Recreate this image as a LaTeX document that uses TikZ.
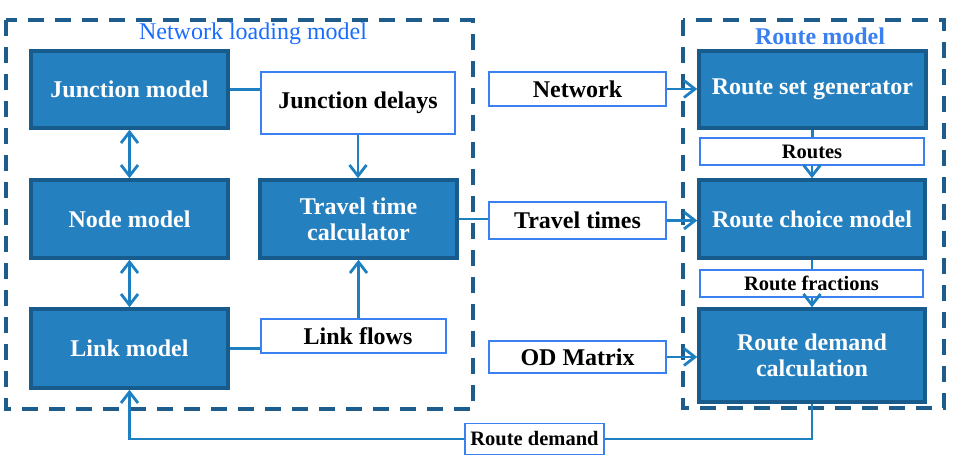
\documentclass[tikz,border=0pt]{standalone}
\usepackage{fontspec}
\setmainfont{Liberation Serif}
\usetikzlibrary{arrows.meta}
\definecolor{darkfill}{RGB}{37,128,192}
\definecolor{darkedge}{RGB}{24,92,142}
\definecolor{whiteedge}{RGB}{58,128,240}
\definecolor{conncol}{RGB}{30,128,193}
\definecolor{dashcol}{RGB}{30,92,140}
\definecolor{titleA}{RGB}{26,108,255}
\definecolor{titleB}{RGB}{58,128,240}
\tikzset{
  darkbox/.style={draw=darkedge, line width=3.5pt, fill=darkfill, text=white, inner sep=0pt,
    align=center, font=\fontsize{24}{26}\selectfont\bfseries},
  whitebox/.style={draw=whiteedge, line width=1.8pt, fill=white, text=black, inner sep=0pt,
    align=center, font=\fontsize{24}{26}\selectfont\bfseries},
  smallbox/.style={whitebox, font=\fontsize{20.5}{22}\selectfont\bfseries},
  conn/.style={draw=conncol, line width=2.8pt},
  arr/.style={conn, -{Straight Barb[length=11pt,width=17pt]}},
  darr/.style={conn, {Straight Barb[length=11pt,width=17pt]}-{Straight Barb[length=11pt,width=17pt]}},
  dashbox/.style={draw=dashcol, line width=3.3pt, dash pattern=on 16pt off 11pt},
}
\begin{document}
\begin{tikzpicture}[x=1pt,y=-1pt]
\useasboundingbox (0,0) rectangle (953,460);
% dashed group boxes
\draw[dashbox] (6,20) rectangle (473,409);
\draw[dashbox] (683,20) rectangle (944,408);
\node[text=titleA, font=\fontsize{24}{26}\selectfont] (t1) at (253,34) {Network loading model};
\node[text=titleB, font=\fontsize{24}{26}\selectfont\bfseries] (t2) at (820,36) {Route model};
% dark boxes
\node[darkbox, minimum width=197pt, minimum height=77pt] (jm) at (129.5,89.5) {Junction model};
\node[darkbox, minimum width=197pt, minimum height=78pt] (nm) at (129.5,219) {Node model};
\node[darkbox, minimum width=197pt, minimum height=79pt] (lm) at (129.5,348.5) {Link model};
\node[darkbox, minimum width=197pt, minimum height=78pt] (ttc) at (358.5,219) {Travel time\\calculator};
\node[darkbox, minimum width=227pt, minimum height=77pt] (rsg) at (812.5,89.5) {Route set generator};
\node[darkbox, minimum width=226pt, minimum height=78pt] (rcm) at (812,219) {Route choice model};
\node[darkbox, minimum width=226pt, minimum height=93pt] (rdc) at (812,355.5) {Route demand\\calculation};
% white boxes
\node[whitebox, minimum width=194pt, minimum height=62pt] (jd) at (358,103) {Junction delays};
\node[whitebox, minimum width=185pt, minimum height=34pt] (lf) at (353.5,336) {\hspace*{9pt}Link flows};
\node[whitebox, minimum width=177pt, minimum height=34pt] (net) at (577.5,89) {Network};
\node[whitebox, minimum width=177pt, minimum height=37pt] (tt) at (577.5,220.5) {Travel times};
\node[whitebox, minimum width=177pt, minimum height=32pt] (od) at (577.5,357) {OD Matrix};
\node[smallbox, minimum width=224pt, minimum height=27pt] (routes) at (812,151.5) {Routes};
\node[smallbox, minimum width=223pt, minimum height=27pt] (rf) at (811.5,283.5) {Route fractions};
\node[smallbox, minimum width=139pt, minimum height=31pt] (rd) at (534.5,439) {Route demand};
% connectors
\draw[conn] (jm.east) -- (jm.east -| jd.west);
\draw[arr] (jd.south) -- (jd.south |- ttc.north);
\draw[darr] (jm.south) -- (nm.north);
\draw[darr] (nm.south) -- (lm.north);
\draw[conn] (lm.east) -- (lm.east -| lf.west);
\draw[arr] (ttc.south |- lf.north) -- (ttc.south);
\draw[conn] (ttc.east) -- (ttc.east -| tt.west);
\draw[arr] (tt.east) -- (tt.east -| rcm.west);
\draw[arr] (net.east) -- (net.east -| rsg.west);
\draw[arr] (od.east) -- (od.east -| rdc.west);
\draw[conn] (rsg.south) -- (rsg.south |- routes.north);
\draw[arr] (rcm.north |- routes.south) -- (rcm.north);
\draw[conn] (rcm.south) -- (rcm.south |- rf.north);
\draw[arr] (rdc.north |- rf.south) -- (rdc.north);
\draw[conn] (rdc.south) |- (rd.east);
\draw[arr] (rd.west) -| (lm.south);
\end{tikzpicture}
\end{document}
